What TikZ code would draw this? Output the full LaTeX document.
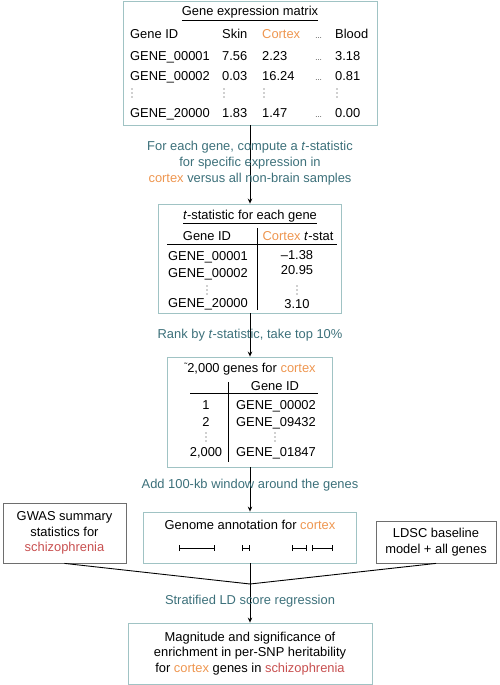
\documentclass[tikz,border=0pt]{standalone}
\usepackage{fontspec}
\setmainfont{Liberation Sans}
\usepackage{xcolor}
\usetikzlibrary{arrows.meta,positioning}

\definecolor{noteteal}{RGB}{60,112,122}
\definecolor{ctxorange}{RGB}{238,150,80}
\definecolor{sczred}{RGB}{200,80,80}
\definecolor{panelline}{RGB}{160,195,196}
\definecolor{sidegrey}{RGB}{110,110,110}
\newcommand{\ctx}[1]{\textcolor{ctxorange}{#1}}
\newcommand{\scz}[1]{\textcolor{sczred}{#1}}
\newcommand{\smalldots}{{\fontsize{7}{7}\selectfont\dots}}

\begin{document}
\begin{tikzpicture}[
    x=1pt, y=-1pt,
    >={Stealth[length=5pt,width=4.5pt]},
    font=\fontsize{12.9}{15.8}\selectfont,
    panel/.style={draw=panelline, line width=0.85pt, inner sep=0pt},
    side/.style={draw=sidegrey, line width=0.8pt, align=center, inner sep=0pt},
    txt/.style={anchor=base west, inner sep=0pt},
    ctr/.style={anchor=base, inner sep=0pt},
    note/.style={text=noteteal, align=center, inner sep=0pt},
    link/.style={line width=0.9pt},
    rule/.style={line width=0.7pt},
    span/.style={line width=0.9pt, {Bar[width=6pt]}-{Bar[width=6pt]}},
    coldot/.style={fill=black!80},
  ]
    \useasboundingbox (0,0) rectangle (499,685);

    % --- panels ---
    \node[panel, minimum width=254, minimum height=124] (mat) at (250,63) {};
    \node[panel, minimum width=183, minimum height=109] (tstat) at (250,258.5) {};
    \node[panel, minimum width=165, minimum height=110] (top) at (250,412) {};
    \node[panel, minimum width=213, minimum height=51] (annot) at (250,537.5) {};
    \node[side, minimum width=123, minimum height=60] (gwas) at (64.5,533)
      {GWAS summary\\statistics for\\\scz{schizophrenia}};
    \node[side, minimum width=120, minimum height=42] (ldsc) at (436,542)
      {LDSC baseline\\model + all genes};
    \node[panel, align=center, minimum width=244, minimum height=61] (result) at (250,653.5)
      {Magnitude and significance of\\enrichment in per-SNP heritability\\
       for \ctx{cortex} genes in \scz{schizophrenia}};

    % --- connectors ---
    \coordinate (join) at (250,584);
    \draw[link,->] (mat.south) -- (tstat.north);
    \draw[link,->] (tstat.south) -- (top.north);
    \draw[link,->] (top.south) -- (annot.north);
    \draw[link] (gwas.south) -- (join);
    \draw[link] (ldsc.south) -- (join);
    \draw[link] (annot.south) -- (join);
    \draw[link,->] (join) -- (result.north);

    % --- step notes ---
    \node[note] (n1) at (250,163) {For each gene, compute a \textit{t}-statistic\\
      for specific expression in\\\ctx{cortex} versus all non-brain samples};
    \node[note] (n2) at (250,335) {Rank by \textit{t}-statistic, take top 10\%};
    \node[note] (n3) at (250,485) {Add 100-kb window around the genes};
    \node[note] (n4) at (250,601) {Stratified LD score regression};

    % --- column dots (vertical ellipses) ---
    \foreach \x/\y in {132/93, 224/93, 264/93, 337/93,
                       207/290, 297/290, 206/437, 275/437}
      \foreach \d in {-4,0,4}
        \fill[coldot] (\x,\y+\d) circle (0.6);

    % --- expression matrix ---
    \node[ctr] (mat-title) at (250,16) {\underline{Gene expression matrix}};
    \node[txt] (mat-h1) at (130,38) {Gene ID};
    \node[txt] (mat-h2) at (222,38) {Skin};
    \node[txt] (mat-h3) at (262,38) {\ctx{Cortex}};
    \node[txt] (mat-h4) at (315,38) {\smalldots};
    \node[txt] (mat-h5) at (335,38) {Blood};
    \foreach \y/\id/\sk/\cx/\bl [count=\i] in
      {60/00001/7.56/2.23/3.18, 81/00002/0.03/16.24/0.81, 117/20000/1.83/1.47/0.00} {
      \node[txt] (mat-id-\i) at (130,\y) {GENE\_\id};
      \node[txt] (mat-sk-\i) at (222,\y) {\sk};
      \node[txt] (mat-cx-\i) at (262,\y) {\cx};
      \node[txt] (mat-dt-\i) at (315,\y) {\smalldots};
      \node[txt] (mat-bl-\i) at (335,\y) {\bl};
    }

    % --- t-statistic table ---
    \node[ctr] (ts-title) at (250,219.5) {\underline{\textit{t}-statistic for each gene}};
    \node[ctr] (ts-h1) at (207,240.5) {Gene ID};
    \node[ctr] (ts-h2) at (298,240.5) {\ctx{Cortex} \textit{t}-stat};
    \draw[rule] (167,244) -- (337,244);
    \draw[rule] (257,228) -- (257,310);
    \foreach \y/\id [count=\i] in {260.5/00001, 277.5/00002, 307.5/20000}
      \node[txt] (ts-id-\i) at (168,\y) {GENE\_\id};
    \foreach \y/\v [count=\i] in {259.5/\textendash1.38, 274.5/20.95, 308/3.10}
      \node[ctr] (ts-v-\i) at (297,\y) {\v};

    % --- top 10% list ---
    \node[ctr] (tp-title) at (250,372.5) {\raisebox{0.5ex}{\fontsize{9}{9}\selectfont\char"02DC}2,000 genes for \ctx{cortex}};
    \node[ctr] (tp-h1) at (275,390.5) {Gene ID};
    \draw[rule] (190,393) -- (318,393);
    \draw[rule] (228,382) -- (228,462);
    \foreach \y/\r/\id [count=\i] in {409.5/1/00002, 426.5/2/09432, 456.5/{2,000}/01847} {
      \node[ctr] (tp-r-\i) at (206,\y) {\r};
      \node[txt] (tp-id-\i) at (236,\y) {GENE\_\id};
    }

    % --- genome annotation ---
    \node[ctr] (an-title) at (250,529.5) {Genome annotation for \ctx{cortex}};
    \foreach \a/\b in {179/215, 242/250, 292/307, 312/333}
      \draw[span] (\a,548) -- (\b,548);
  \end{tikzpicture}
\end{document}
